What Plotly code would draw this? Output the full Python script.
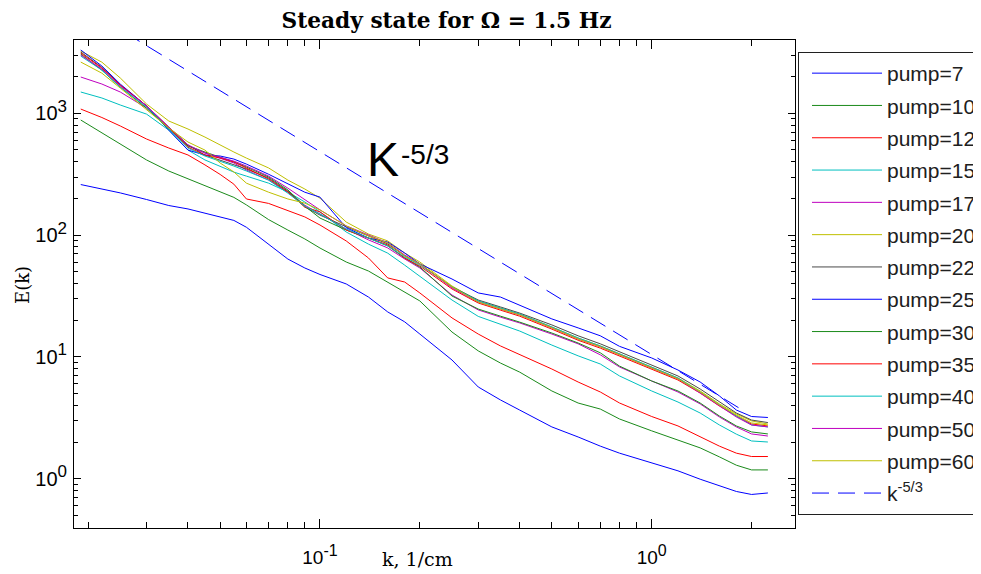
import plotly.graph_objects as go

# ===== DATA =====
K = [0.019, 0.022, 0.025, 0.03, 0.035, 0.04, 0.045, 0.05, 0.055, 0.06,
     0.07, 0.08, 0.09, 0.1, 0.12, 0.14, 0.16, 0.18, 0.2, 0.25,
     0.3, 0.35, 0.4, 0.5, 0.6, 0.7, 0.8, 1.0, 1.2, 1.4,
     1.6, 1.8, 2.0, 2.24]

E_P7 = [260, 239, 222, 196, 175, 164, 152, 141, 132, 116,
        83.7, 63.6, 53.7, 47.5, 39.7, 31, 23.4, 19.4, 15.4, 9.43,
        5.66, 4.43, 3.66, 2.66, 2.2, 1.85, 1.62, 1.35, 1.16, 0.99,
        0.87, 0.785, 0.742, 0.763]
E_P10 = [881, 689, 555, 414, 336, 289, 253, 226, 204, 177,
         134, 110, 93, 78.3, 60.1, 50.7, 41.2, 34.1, 28.8, 16.0,
         11.2, 8.9, 7.5, 5.25, 4.18, 3.73, 3.09, 2.47, 2.08, 1.79,
         1.51, 1.29, 1.18, 1.18]
E_P12 = [1084, 924, 787, 615, 519, 455, 377, 315, 262, 198,
         182, 158, 141, 121, 89.5, 64.9, 44.5, 41.2, 33.5, 20.9,
         15.4, 12.3, 10.4, 7.95, 6.22, 5.15, 4.18, 3.24, 2.71, 2.20,
         1.85, 1.62, 1.52, 1.52]
E_P15 = [1496, 1336, 1170, 985, 728, 499, 414, 369, 329, 305,
         267, 226, 187, 155, 106, 84.3, 71.1, 56.7, 46, 29.3,
         21.5, 18.6, 16.3, 12.5, 10.2, 8.74, 6.97, 5.25, 4.26, 3.46,
         2.76, 2.32, 2.04, 2.0]
E_P17 = [1986, 1740, 1496, 1104, 758, 540, 472, 430, 391, 342,
         283, 226, 176, 149, 112, 91.3, 78.5, 63.7, 53.7, 32.2,
         24.3, 21.2, 19, 15.4, 12.8, 10.4, 8.26, 6.34, 5.15, 4.11,
         3.21, 2.66, 2.33, 2.24]
E_P20 = [3250, 2630, 1950, 1192, 865, 743, 638, 548, 481, 429,
         356, 283, 239, 201, 128, 102, 89.6, 71.3, 60.1, 38.2,
         28.8, 25.2, 22.5, 17.6, 14.3, 12.3, 10.6, 8.26, 6.71, 5.25,
         4.11, 3.4, 2.98, 2.81]
E_P22 = [3186, 2388, 1706, 1150, 772, 550, 454, 414, 376, 349,
         294, 230, 170, 146, 117, 98.4, 84.7, 67.5, 58, 37.5,
         29.3, 25.7, 22.9, 18.3, 14.9, 12.8, 11, 8.58, 6.97, 5.45,
         4.26, 3.46, 3.03, 2.89]
E_P25 = [3311, 2445, 1738, 1150, 728, 499, 454, 446, 421, 383,
         316, 262, 225, 205, 115, 94.6, 87.7, 71.3, 58, 43.6,
         33.5, 31, 26.7, 20.5, 17.3, 14.9, 12.2, 9.8, 7.8, 6.22,
         4.78, 3.66, 3.24, 3.18]
E_P30 = [3069, 2262, 1641, 1104, 744, 540, 481, 438, 399, 362,
         300, 235, 173, 138, 110, 94.6, 81.5, 64.9, 54.7, 31.6,
         24.7, 21.6, 19.3, 15.7, 13, 10.8, 8.4, 6.34, 5.25, 4.18,
         3.27, 2.71, 2.42, 2.33]
E_P35 = [3126, 2355, 1706, 1150, 758, 527, 454, 430, 399, 356,
         289, 226, 170, 155, 110, 94.6, 83, 64.9, 55.7, 36.1,
         27.7, 24.2, 21.6, 16.9, 13.7, 11.8, 10.2, 7.95, 6.46, 5.05,
         3.95, 3.27, 2.81, 2.71]
E_P40 = [2951, 2262, 1641, 1127, 744, 518, 446, 405, 369, 336,
         283, 221, 173, 149, 112, 94.6, 81.5, 66.2, 56.9, 37.5,
         28.8, 25.2, 22.5, 17.6, 14.3, 12.3, 10.6, 8.26, 6.71, 5.15,
         4.03, 3.27, 2.76, 2.66]
E_P50 = [3006, 2312, 1675, 1150, 772, 550, 472, 438, 405, 369,
         305, 243, 194, 161, 119, 100, 86.3, 68.7, 58, 36.8,
         28.2, 24.7, 22.1, 17.3, 14, 12.1, 10.4, 8.11, 6.59, 5.05,
         3.95, 3.21, 2.76, 2.66]
E_P60 = [2636, 2136, 1611, 1065, 758, 581, 499, 391, 330, 267,
         225, 198, 183, 161, 119, 98.4, 86.3, 67.5, 58, 37.5,
         28.2, 24.7, 22.1, 17.3, 14, 12.1, 10.4, 8.11, 6.59, 5.15,
         4.03, 3.33, 2.87, 2.76]

# reference slope line (two end points)
K53_K = [0.019, 1.85]
K53_E = [7690, 3.75]

PUMP_LABELS = ["pump=7", "pump=10", "pump=12", "pump=15", "pump=17", "pump=20", "pump=22",
               "pump=25", "pump=30", "pump=35", "pump=40", "pump=50", "pump=60"]
PUMP_SERIES = [E_P7, E_P10, E_P12, E_P15, E_P17, E_P20, E_P22,
               E_P25, E_P30, E_P35, E_P40, E_P50, E_P60]

X_TICKS = [0.1, 1]
X_TICK_TEXT = ["10<sup><span style='font-size:16px'>-1</span></sup>",
               "10<sup><span style='font-size:16px'>0</span></sup>"]
Y_TICKS = [1, 10, 100, 1000]
Y_TICK_TEXT = ["10<sup><span style='font-size:17px'>0</span></sup>",
               "10<sup><span style='font-size:17px'>1</span></sup>",
               "10<sup><span style='font-size:17px'>2</span></sup>",
               "10<sup><span style='font-size:17px'>3</span></sup>"]

# ===== STYLE =====
# old MATLAB colour order
COLORS = ["#0000ff", "#1a8a1a", "#ff0000", "#00bfbf", "#bf00bf", "#bfbf00", "#4a4a4a"]
SANS = "Liberation Sans, Arial, sans-serif"
SERIF = "DejaVu Serif, serif"

# the page body has an 8px margin, so the figure is drawn 8px in from the corner
OFF = 8
W, H = 981 - OFF, 574 - OFF
# plot box in page pixels: x 74..795, y 40..528
L, T = 74 - OFF, 40 - OFF
R, B = W - (795 - OFF), H - (528 - OFF)
PW, PH = 795 - 74, 528 - 40
X_RANGE = [-1.7416, 0.432]
Y_RANGE = [-0.405, 3.602]


def px(xp):
    return (xp - 74) / PW


def py(yp):
    return (528 - yp) / PH


minor_x = [m * 10.0 ** e for e in (-2, -1, 0) for m in range(2, 10) if m * 10.0 ** e <= 2.7]
minor_y = [m * 10.0 ** e for e in (-1, 0, 1, 2, 3) for m in range(2, 10)
           if 0.4 <= m * 10.0 ** e <= 4000]

# ===== FIGURE =====
fig = go.Figure()

for i, (name, e) in enumerate(zip(PUMP_LABELS, PUMP_SERIES)):
    fig.add_trace(go.Scatter(
        x=K, y=e, mode="lines", name=name, legendgroup=name,
        line=dict(color=COLORS[i % len(COLORS)], width=1),
    ))

# the slope line sits on the overlaid axes (same ranges), which carry the minor ticks
fig.add_trace(go.Scatter(
    x=K53_K, y=K53_E, mode="lines", name="k<sup>-5/3</sup>", legendgroup="k53",
    xaxis="x2", yaxis="y2",
    line=dict(color="#0000ff", width=1, dash="17px,9px"),
))

axis_common = dict(
    type="log", showline=True, linecolor="black", linewidth=1, mirror="ticks",
    ticks="inside", tickcolor="black", tickwidth=1,
    showgrid=False, zeroline=False,
)
minor_common = dict(
    type="log", ticks="inside", tickcolor="black", tickwidth=1,
    mirror="ticks", showline=False, showticklabels=False,
    showgrid=False, zeroline=False,
)

fig.update_layout(
    xaxis=dict(**axis_common, range=X_RANGE, tickvals=X_TICKS, ticktext=X_TICK_TEXT,
               ticklen=9, ticklabelstandoff=12,
               tickfont=dict(family=SANS, size=19, color="black")),
    yaxis=dict(**axis_common, range=Y_RANGE, tickvals=Y_TICKS, ticktext=Y_TICK_TEXT,
               ticklen=7, ticklabelstandoff=2,
               tickfont=dict(family=SANS, size=20, color="black")),
    xaxis2=dict(**minor_common, range=X_RANGE, overlaying="x", anchor="y2", side="bottom",
                tickvals=minor_x, ticklen=6),
    yaxis2=dict(**minor_common, range=Y_RANGE, overlaying="y", anchor="x2", side="left",
                tickvals=minor_y, ticklen=4),
)

fig.update_layout(
    width=W, height=H,
    margin=dict(l=L, r=R, t=T, b=B, autoexpand=False),
    paper_bgcolor="white", plot_bgcolor="white",
    title=dict(text="Steady state for Ω = 1.5 Hz", x=(446.5 - OFF) / W, xanchor="center",
               y=1 - (20 - OFF) / H, yanchor="middle",
               font=dict(family=SERIF, size=21.7, color="black", weight="bold")),
    showlegend=True,
    legend=dict(x=px(798), xanchor="left", y=py(52), yanchor="top",
                bgcolor="white", bordercolor="#202020", borderwidth=1,
                font=dict(family=SANS, size=21, color="#202020"),
                itemwidth=70, indentation=8, tracegroupgap=2, traceorder="grouped"),
)

# axis titles and the slope label
fig.add_annotation(text="E(k)", xref="paper", yref="paper", x=px(22), y=py(285),
                   xanchor="center", yanchor="middle", textangle=-90, showarrow=False,
                   font=dict(family=SERIF, size=18, color="black"))
fig.add_annotation(text="k, 1/cm", xref="paper", yref="paper", x=px(417), y=py(559),
                   xanchor="center", yanchor="middle", showarrow=False,
                   font=dict(family=SERIF, size=19, color="black"))
fig.add_annotation(text="K", xref="paper", yref="paper", x=px(383), y=py(159),
                   xanchor="center", yanchor="middle", showarrow=False,
                   font=dict(family=SANS, size=48, color="black"))
fig.add_annotation(text="-5/3", xref="paper", yref="paper", x=px(399), y=py(154),
                   xanchor="left", yanchor="middle", showarrow=False,
                   font=dict(family=SANS, size=28, color="black"))

fig.write_html("out.html")
